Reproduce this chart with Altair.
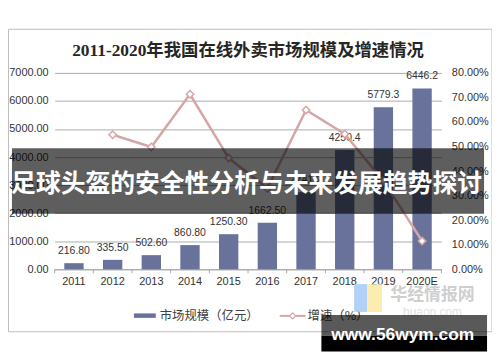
import altair as alt
import pandas as pd

# ---------------- data ----------------
years = ["2011", "2012", "2013", "2014", "2015", "2016", "2017", "2018", "2019", "2020E"]
market = [216.8, 335.5, 502.6, 860.8, 1250.3, 1662.5, 2741.2, 4250.4, 5779.3, 6446.2]
market_labels = ["216.80", "335.50", "502.60", "860.80", "1250.30", "1662.50",
                 "2741.2", "4250.4", "5779.3", "6446.2"]
growth = [None, 0.548, 0.498, 0.713, 0.453, 0.330, 0.649, 0.551, 0.360, 0.115]
left_ticks = [0, 1000, 2000, 3000, 4000, 5000, 6000, 7000]
right_ticks = [0.0, 0.1, 0.2, 0.3, 0.4, 0.5, 0.6, 0.7, 0.8]

title_text = "2011-2020年我国在线外卖市场规模及增速情况"
legend_bar = "市场规模（亿元）"
legend_line = "增速（%）"
banner_text = "足球头盔的安全性分析与未来发展趋势探讨"
site_text = "www.56wym.com"
logo_cn = "华经情报网"
logo_en = "huaon.com"

df = pd.DataFrame({"year": years, "market": market, "label": market_labels, "growth": growth})
one = pd.DataFrame({"k": [0]})

BAR = "#68729A"
LINE = "#D6A6A6"
CJK = "Noto Sans CJK SC"
LAT = "Liberation Sans"
W, H = 390, 198

X_ENC = alt.X("year:N",
              scale=alt.Scale(paddingInner=0.5, paddingOuter=0.25),
              axis=alt.Axis(title=None, labelAngle=0, ticks=False, tickSize=0,
                            labelPadding=6, domainColor="#A6A6A6", labelFontSize=11))

Y_LEFT = alt.Y("market:Q", scale=alt.Scale(domain=[0, 7000]),
               axis=alt.Axis(title=None, values=left_ticks, format=".2f", grid=True,
                             gridColor="#ABABAB", domain=False, ticks=False,
                             labelPadding=6.5, labelFontSize=11))
Y_RIGHT = alt.Y("growth:Q", scale=alt.Scale(domain=[0, 0.8]),
                axis=alt.Axis(title=None, orient="right", values=right_ticks, format=".2%",
                              grid=False, domain=False, ticks=False,
                              labelPadding=10, labelFontSize=11))


def txt(s, x, y, size, color, font=CJK, weight="normal", align="center", opacity=1.0):
    return alt.Chart(one).mark_text(
        font=font, fontSize=size, fontWeight=weight, color=color, align=align,
        baseline="middle", opacity=opacity
    ).encode(x=alt.value(x), y=alt.value(y), text=alt.value(s))


def box(x1, x2, y1, y2, **kw):
    return alt.Chart(one).mark_rect(**kw).encode(
        x=alt.value(x1), x2=alt.value(x2), y=alt.value(y1), y2=alt.value(y2))


frame = box(-46.5, 441, -44, 261, fillOpacity=0, stroke="#BDBDBD", strokeWidth=1)

bars = alt.Chart(df).mark_bar(color=BAR).encode(x=X_ENC, y=Y_LEFT)
labels = alt.Chart(df).mark_text(font=LAT, fontSize=10.5, color="#333333",
                                 baseline="middle", dy=-12).encode(
    x=X_ENC, y=Y_LEFT, text="label:N")
bar_layer = alt.layer(bars, labels)

line = alt.Chart(df).mark_line(color=LINE, strokeWidth=2.5).encode(x=X_ENC, y=Y_RIGHT)
pts = alt.Chart(df).mark_point(shape="diamond", filled=True, fill="white", stroke=LINE,
                               strokeWidth=1.5, size=55, opacity=1).encode(x=X_ENC, y=Y_RIGHT)
line_layer = alt.layer(line, pts)

ticks = alt.Chart(df).mark_rule(color="#A6A6A6", xOffset=-19.5).encode(
    x=X_ENC, y=alt.value(198), y2=alt.value(202))
tick_end = alt.Chart(one).mark_rule(color="#A6A6A6").encode(
    x=alt.value(390), y=alt.value(198), y2=alt.value(202))

title = txt(title_text, 195, -22, 17.5, "#262626",
            font="'Liberation Serif', 'Noto Sans CJK SC'", weight="bold")

# legend
leg_bar = box(80, 102, 242.5, 247, color=BAR)
leg_bar_t = txt(legend_bar, 106, 245, 12.5, "#404040", align="left")
leg_line = alt.Chart(one).mark_rule(color=LINE, strokeWidth=2).encode(
    x=alt.value(227), x2=alt.value(253), y=alt.value(245))
leg_pt = alt.Chart(one).mark_point(shape="diamond", filled=True, fill="white", stroke=LINE,
                                   strokeWidth=1.2, size=40, opacity=1).encode(
    x=alt.value(240), y=alt.value(245))
leg_line_t = txt(legend_line, 255, 245, 12.5, "#404040", align="left")

# faint logo watermark
logo_b = box(302, 315, 213, 241, color="#A9CCF6", opacity=0.9)
logo_y = box(315, 330, 213, 241, color="#FCEAA6", opacity=0.9)
logo_t1 = txt(logo_cn, 381, 224, 17, "#CFCFCF", weight="bold")
logo_t2 = txt(logo_en, 381, 241, 12, "#E2E2E2", font=LAT)

# overlay banner
banner = box(-43, 433, 76, 142, color="#000000", opacity=0.63)
banner_t = txt(banner_text, 193.5, 112.5, 25, "#FFFFFF", weight="bold")

# site watermark
site_g = box(269, 436, 244, 265, color="#000000", opacity=0.65)
site_b = box(269, 436, 265, 281, color="#000000", opacity=1)
site_t = txt(site_text, 351, 264.5, 17.5, "#FFFFFF", font=LAT, weight="bold")

chart = alt.layer(
    frame, bar_layer, line_layer, ticks, tick_end, title,
    leg_bar, leg_bar_t, leg_line, leg_pt, leg_line_t,
    logo_b, logo_y, logo_t1, logo_t2,
    banner, banner_t, site_g, site_b, site_t
).resolve_scale(y="independent").properties(
    width=W, height=H,
    padding={"left": 47, "top": 64, "right": 51, "bottom": 83},
    autosize=alt.AutoSizeParams(type="none"),
    background="white",
).configure_view(stroke="transparent").configure_axis(
    labelFont=LAT, labelColor="#333333"
)

chart.save("out.html", embed_options={"renderer": "svg", "actions": False})
